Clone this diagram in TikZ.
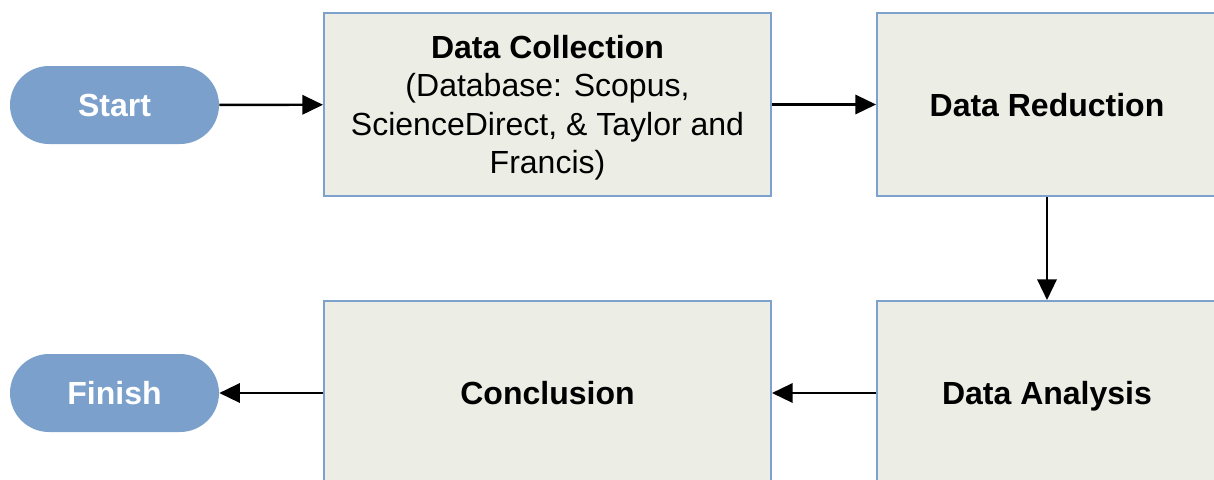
\documentclass[tikz,border=0pt]{standalone}
\usepackage{fontspec}
\setmainfont{Liberation Sans}
\usetikzlibrary{arrows.meta}
\definecolor{pillblue}{RGB}{122,160,203}
\definecolor{boxfill}{RGB}{236,238,229}
\definecolor{boxline}{RGB}{124,161,204}
\begin{document}
\begin{tikzpicture}[x=0.75pt,y=-0.75pt,
  pill/.style={fill=pillblue, rounded corners=29.25pt, minimum width=156.75pt, minimum height=58.5pt, text=white, inner sep=0pt, font=\bfseries\fontsize{24pt}{28.9pt}\selectfont},
  procbox/.style={draw=boxline, fill=boxfill, line width=1.5pt, inner sep=0pt, align=center, text depth=0pt, font=\fontsize{24pt}{28.9pt}\selectfont},
  wide/.style={minimum width=335.25pt},
  narrow/.style={minimum width=255pt},
  flow/.style={line width=1.8pt, -{Triangle[length=15.5pt,width=14.5pt]}}]
\useasboundingbox (0,0) rectangle (1214,479);
\clip (0,0) rectangle (1214,479);
\fill[white] (0,0) rectangle (1214,479);
\node[pill] (start) at (114.5,105) {Start};
\node[pill] (finish) at (114.5,393) {Finish};
\node[procbox, wide, minimum height=137.25pt] (dc) at (547.5,104.5) {\textbf{Data Collection}\\(Database: Scopus,\\ScienceDirect, \& Taylor and\\Francis)};
\node[procbox, narrow, minimum height=137.25pt] (dr) at (1047,104.5) {\textbf{Data Reduction}};
\node[procbox, narrow, minimum height=138pt] (da) at (1047,393) {\textbf{Data Analysis}};
\node[procbox, wide, minimum height=138pt] (co) at (547.5,393) {\textbf{Conclusion}};
\draw[flow] (start) -- (dc);
\draw[flow] (dc) -- (dr);
\draw[flow] (dr) -- (da);
\draw[flow] (da) -- (co);
\draw[flow] (co) -- (finish);
\end{tikzpicture}
\end{document}
